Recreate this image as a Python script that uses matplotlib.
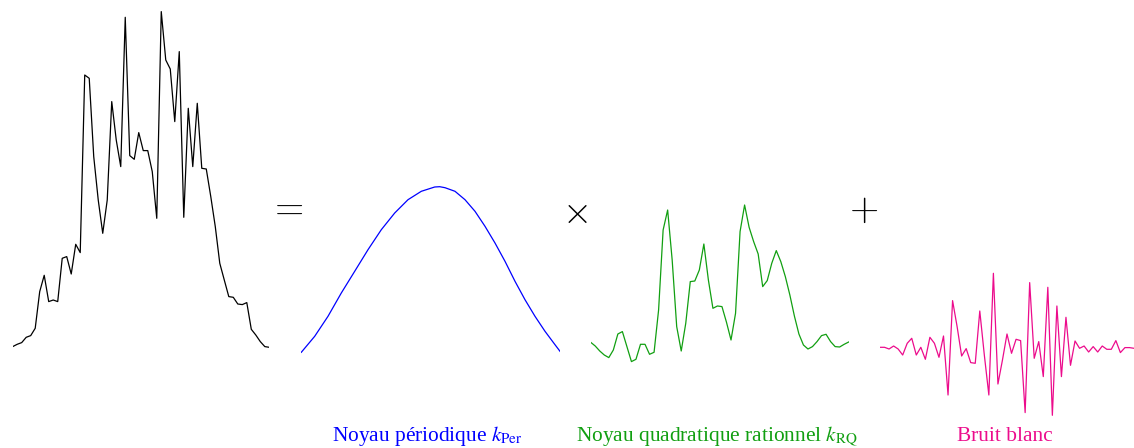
import numpy as np
import matplotlib
matplotlib.use('Agg')
import matplotlib.pyplot as plt

# signal total (somme des noyaux)
total_vals = [1.7, 4.0, 5.7, 11.0, 12.7, 20.0, 56.7, 73.0, 46.7, 48.3, 46.7, 90.0,
              91.7, 74.3, 104.0, 95.7, 273.3, 270.0, 191.7, 148.3, 115.0, 148.3,
              246.7, 208.3, 181.7, 331.0, 192.7, 189.0, 215.7, 197.7, 197.7, 176.7,
              130.0, 336.7, 288.3, 279.3, 226.7, 296.7, 131.0, 240.0, 181.7, 245.0,
              180.0, 179.3, 151.7, 121.7, 85.0, 68.3, 51.7, 51.0, 44.3, 43.7, 45.7,
              19.0, 13.3, 6.7, 1.7, 1.0]

# noyau periodique
per_t = [0, 13.4, 26.7, 40, 53.4, 66.7, 80, 93.4, 106.7, 120, 133.4, 138.4, 143.7,
         153.7, 163.7, 173.7, 183.7, 193.7, 203.7, 213.7, 223.7, 233.7, 243.7,
         253.7, 258.7]
per_vals = [0.7, 16.7, 36.7, 60, 81.7, 103.3, 123.3, 140, 153.3, 161.7, 166, 166.3,
            165.3, 161.7, 153.3, 141.7, 126.7, 110, 91.7, 71.7, 53.3, 36.7, 21.7,
            8.3, 1.7]

# noyau quadratique rationnel
rq_vals = [21.0, 17.3, 12.3, 8.3, 5.7, 13.3, 29.3, 31.7, 16.7, 1.7, 4.0, 19.0, 19.0,
           9.0, 11.0, 53.3, 133.3, 153.3, 103.3, 36.7, 12.3, 40.0, 81.7, 82.3, 93.3,
           119.3, 83.3, 55.0, 57.3, 56.7, 41.0, 23.3, 50.0, 131.7, 158.3, 136.0,
           121.7, 109.3, 76.7, 82.7, 100.0, 112.7, 101.7, 86.7, 68.3, 47.3, 29.3,
           18.3, 14.3, 16.7, 21.7, 27.7, 29.0, 21.7, 16.7, 16.3, 19.0, 21.3]

# bruit blanc
noise_vals = [0, 0, -1.7, 1.3, -1.7, -7.7, 4.0, 9.0, -7.7, 0, -12.0, 10.0, 4.0,
              -10.0, 11.3, -47.7, 46.7, 20.7, -8.7, -1.3, -15.3, -16.0, 36.3, -7.7,
              -47.7, 74.0, -36.7, -12.7, 13.3, -6.0, 8.0, 6.7, -65.3, 64.7, -11.0,
              5.7, -29.3, 60.0, -68.0, 41.3, -29.3, 30.0, -18.0, 6.3, -1.0, 1.3,
              -4.7, 0.7, -4.7, 1.3, -2.0, -2.0, 6.7, -5.3, -0.3, -0.3, -1.0]

labels = ['Noyau périodique $k_{\\mathrm{Per}}$',
          'Noyau quadratique rationnel $k_{\\mathrm{RQ}}$',
          'Bruit blanc']

W, H = 1134, 448
fig = plt.figure(figsize=(W / 100, H / 100), dpi=100)


def panel(x0, x1, base, xs, ys, color, xmax):
    # axes sur toute la hauteur, base = ligne zero en pixels depuis le haut
    ax = fig.add_axes([x0 / W, 0, (x1 - x0) / W, 1])
    ax.plot(xs, ys, color=color, lw=0.9)
    ax.set_xlim(0, xmax)
    ax.set_ylim(base - H, base)
    ax.axis('off')
    return ax


panel(12.7, 269.3, 348.3, range(len(total_vals)), total_vals, 'black', len(total_vals) - 1)
panel(301.3, 560.0, 353.0, per_t, per_vals, '#0000ff', per_t[-1])
panel(590.7, 848.7, 363.3, range(len(rq_vals)), rq_vals, '#119f11', len(rq_vals) - 1)
panel(880.0, 1134.0, 347.3, range(len(noise_vals)), noise_vals, '#ec0c8c', len(noise_vals) - 1)

# operateurs
for sym, xp, yp in [('$=$', 285.5, 208.3), ('$\\times$', 574.7, 212.5), ('$+$', 864, 210)]:
    fig.text(xp / W, 1 - yp / H, sym, ha='center', va='center', fontsize=27,
             math_fontfamily='cm')

# legendes
for lab, xp, col in zip(labels, [427.5, 717, 1005], ['#0000ff', '#119f11', '#ec0c8c']):
    fig.text(xp / W, 1 - 441 / H, lab, ha='center', va='baseline', fontsize=15.4,
             color=col, family='Liberation Serif', math_fontfamily='stix')

fig.savefig('out.png', dpi=100)
